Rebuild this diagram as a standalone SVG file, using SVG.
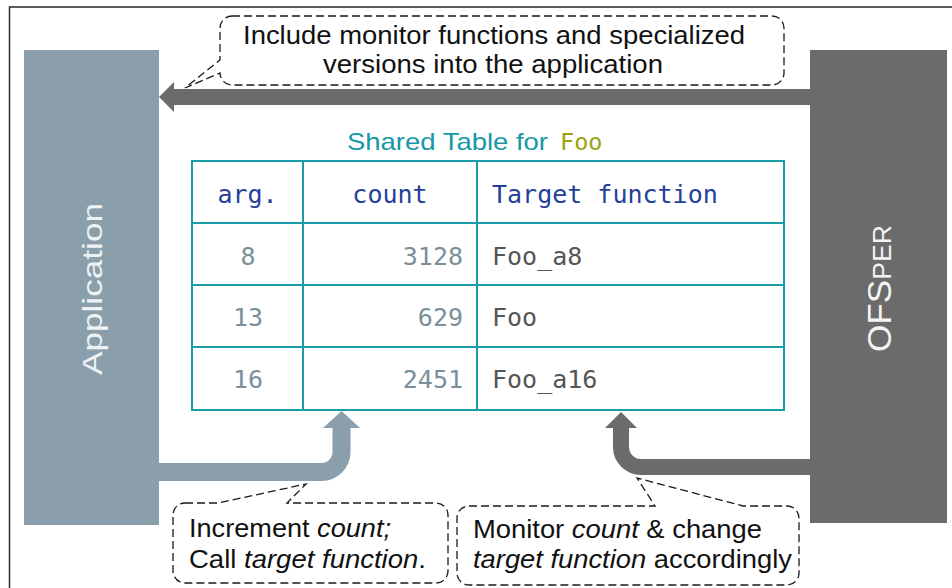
<svg xmlns="http://www.w3.org/2000/svg" width="952" height="588" viewBox="0 0 952 588">
<defs>
<style>
.sans{font-family:"Liberation Sans",Arial,sans-serif}
.mono{font-family:"DejaVu Sans Mono","Liberation Mono",monospace}
.callout{fill:#ffffff;stroke:#1a1a1a;stroke-width:1.3;stroke-dasharray:8 4}
.ctext{font-family:"Liberation Sans",Arial,sans-serif;font-size:26px;fill:#111111}
.grid{fill:none;stroke:#1a9dab;stroke-width:2}
.hdr{font-size:25px;fill:#24409a}
.num{font-size:25px;fill:#7b8f9a}
.fn{font-size:25px;fill:#555555}
</style>
</defs>
<rect x="0" y="0" width="952" height="588" fill="#ffffff"/>
<rect x="9.5" y="7" width="1000" height="1000" fill="none" stroke="#2a2a2a" stroke-width="1.5"/>

<g id="application">
<rect x="24" y="50" width="135" height="475" fill="#8a9fab"/>
<text class="sans" transform="translate(101.5,289) rotate(-90)" x="0" y="0" text-anchor="middle" font-size="28" fill="#eef2f4" textLength="172" lengthAdjust="spacingAndGlyphs">Application</text>
</g>

<g id="ofsper">
<rect x="810" y="50" width="137" height="473" fill="#6b6b6b"/>
<text class="sans" transform="translate(890.5,288.5) rotate(-90)" x="0" y="0" text-anchor="middle" font-size="33" fill="#f4f4f4" textLength="127" lengthAdjust="spacingAndGlyphs">OFS<tspan font-size="25">PER</tspan></text>
</g>

<g id="shared-table">
<text class="sans" x="347" y="150" font-size="24" fill="#1798a6" textLength="201" lengthAdjust="spacingAndGlyphs">Shared Table for</text>
<text class="mono" x="560" y="150" font-size="23.5" fill="#9aa20f">Foo</text>
<rect class="grid" x="192" y="161" width="592" height="249"/>
<line class="grid" x1="303" y1="161" x2="303" y2="410"/>
<line class="grid" x1="477" y1="161" x2="477" y2="410"/>
<line class="grid" x1="192" y1="223" x2="784" y2="223"/>
<line class="grid" x1="192" y1="285" x2="784" y2="285"/>
<line class="grid" x1="192" y1="347" x2="784" y2="347"/>
<text class="mono hdr" x="247.5" y="203" text-anchor="middle">arg.</text>
<text class="mono hdr" x="390" y="203" text-anchor="middle">count</text>
<text class="mono hdr" x="492" y="203">Target function</text>
<text class="mono num" x="248" y="265" text-anchor="middle">8</text>
<text class="mono num" x="463" y="265" text-anchor="end">3128</text>
<text class="mono fn" x="492" y="265">Foo_a8</text>
<text class="mono num" x="248" y="326" text-anchor="middle">13</text>
<text class="mono num" x="463" y="326" text-anchor="end">629</text>
<text class="mono fn" x="492" y="326">Foo</text>
<text class="mono num" x="248" y="388" text-anchor="middle">16</text>
<text class="mono num" x="463" y="388" text-anchor="end">2451</text>
<text class="mono fn" x="492" y="388">Foo_a16</text>
</g>

<g id="connectors">
<rect x="174" y="89" width="636" height="16" fill="#6b6b6b"/>
<polygon points="159,97 174,82 174,112" fill="#6b6b6b"/>
<path d="M159,472 H321.5 A20,20 0 0 0 341.5,452 V426" fill="none" stroke="#8a9fab" stroke-width="18"/>
<polygon points="323,428 341.5,411 360,428" fill="#8a9fab"/>
<path d="M810,467 H641 A20,20 0 0 1 621,447 V426" fill="none" stroke="#6b6b6b" stroke-width="16"/>
<polygon points="605,428 621,412 637,428" fill="#6b6b6b"/>
</g>

<g id="callout-include">
<path class="callout" d="M232,16 H772 A12,12 0 0 1 784,28 V73 A12,12 0 0 1 772,85 H232 A12,12 0 0 1 220,73 L185,88 L220,60 V28 A12,12 0 0 1 232,16 Z"/>
<text class="ctext" x="494" y="44" text-anchor="middle" textLength="502" lengthAdjust="spacingAndGlyphs">Include monitor functions and specialized</text>
<text class="ctext" x="493" y="73" text-anchor="middle" textLength="340" lengthAdjust="spacingAndGlyphs">versions into the application</text>
</g>

<g id="callout-increment">
<path class="callout" d="M185,503 H218 L306,484 L287,503 H436 A12,12 0 0 1 448,515 V571 A12,12 0 0 1 436,583 H185 A12,12 0 0 1 173,571 V515 A12,12 0 0 1 185,503 Z"/>
<text class="ctext" x="189" y="537" textLength="202" lengthAdjust="spacingAndGlyphs">Increment <tspan font-style="italic">count;</tspan></text>
<text class="ctext" x="189" y="568" textLength="237" lengthAdjust="spacingAndGlyphs">Call <tspan font-style="italic">target function</tspan>.</text>
</g>

<g id="callout-monitor">
<path class="callout" d="M469,506 H655 L637,478 L743,506 H787 A12,12 0 0 1 799,518 V573 A12,12 0 0 1 787,585 H469 A12,12 0 0 1 457,573 V518 A12,12 0 0 1 469,506 Z"/>
<text class="ctext" x="473" y="538" textLength="289" lengthAdjust="spacingAndGlyphs">Monitor <tspan font-style="italic">count</tspan> &amp; change</text>
<text class="ctext" x="473" y="568" textLength="319" lengthAdjust="spacingAndGlyphs"><tspan font-style="italic">target function</tspan> accordingly</text>
</g>
</svg>
